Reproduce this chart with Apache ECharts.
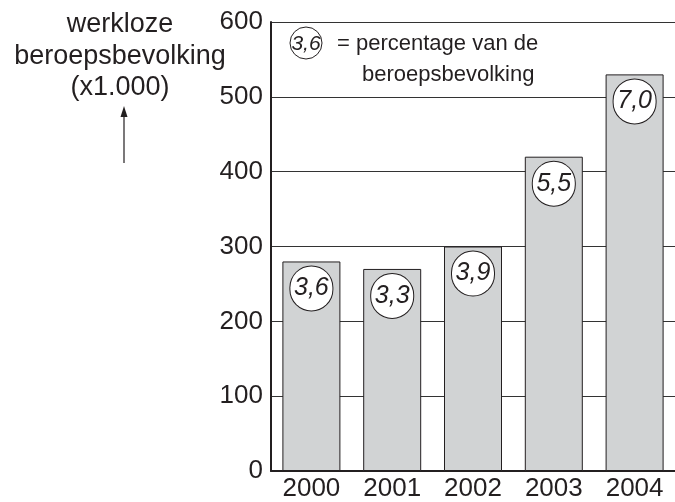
<!DOCTYPE html>
<html>
<head>
<meta charset="utf-8">
<script src="https://cdn.jsdelivr.net/npm/echarts@6/dist/echarts.min.js"></script>
<style>
  html, body { margin: 0; padding: 0; background: #fff; }
  #chart { width: 675px; height: 502px; }
</style>
</head>
<body>
<div id="chart"></div>
<script>
// werkloze beroepsbevolking (x1.000) per jaar
const years = ['2000', '2001', '2002', '2003', '2004']
const werkloos = [280, 270, 300, 420, 530]
const percentage = ['3,6', '3,3', '3,9', '5,5', '7,0']
const yTicks = [0, 100, 200, 300, 400, 500, 600]

const ink = '#231f20'
const font = 'Liberation Sans, Arial, Helvetica, sans-serif'

const chart = echarts.init(document.getElementById('chart'), null, { renderer: 'canvas' })

chart.setOption({
  animation: false,
  backgroundColor: '#fff',
  textStyle: { fontFamily: font, color: ink },
  grid: { left: 271, top: 22, right: -3, bottom: 28 },
  xAxis: [{
    type: 'category',
    data: years,
    axisLine: { lineStyle: { color: ink, width: 2 } },
    axisTick: { length: 6, lineStyle: { color: ink, width: 2 } },
    axisLabel: { color: ink, fontSize: 26, fontFamily: font, margin: 5 }
  }, {
    type: 'category',
    data: years,
    position: 'bottom',
    axisLine: { show: false },
    axisTick: { inside: true, length: 6, lineStyle: { color: ink, width: 2 } },
    axisLabel: { show: false }
  }],
  yAxis: {
    type: 'value',
    min: yTicks[0],
    max: yTicks[yTicks.length - 1],
    interval: 100,
    axisLine: { show: true, lineStyle: { color: ink, width: 2 } },
    axisTick: { show: false },
    axisLabel: { color: ink, fontSize: 26, fontFamily: font, margin: 8 },
    splitLine: { lineStyle: { color: '#333', width: 1 } }
  },
  series: [{
    type: 'bar',
    data: werkloos,
    barWidth: 58,
    itemStyle: { color: '#d1d3d4', borderColor: ink, borderWidth: 1 },
    label: {
      show: true,
      position: 'insideTop',
      distance: 5,
      formatter: p => percentage[p.dataIndex],
      fontStyle: 'italic',
      fontSize: 25,
      fontFamily: font,
      color: ink,
      backgroundColor: '#fff',
      borderColor: ink,
      borderWidth: 1,
      borderRadius: 22,
      width: 42,
      height: 44,
      lineHeight: 44,
      align: 'center',
      padding: 0
    }
  }],
  graphic: [
    // as-titel links
    { type: 'text', x: 120, y: 25, style: { text: 'werkloze', font: '27px ' + font, fill: ink, align: 'center', verticalAlign: 'middle' } },
    { type: 'text', x: 120, y: 57, style: { text: 'beroepsbevolking', font: '27px ' + font, fill: ink, align: 'center', verticalAlign: 'middle' } },
    { type: 'text', x: 120, y: 88, style: { text: '(x1.000)', font: '27px ' + font, fill: ink, align: 'center', verticalAlign: 'middle' } },
    { type: 'line', shape: { x1: 124, y1: 163, x2: 124, y2: 112 }, style: { stroke: ink, lineWidth: 1.2 } },
    { type: 'polygon', shape: { points: [[124, 106], [120.5, 117], [127.5, 117]] }, style: { fill: ink } },
    // legenda
    { type: 'circle', shape: { cx: 306, cy: 43, r: 16 }, style: { fill: '#fff', stroke: ink, lineWidth: 1 } },
    { type: 'text', x: 306, y: 44, style: { text: '3,6', font: 'italic 21px ' + font, fill: ink, align: 'center', verticalAlign: 'middle' } },
    { type: 'text', x: 337, y: 44, style: { text: '= percentage van de', font: '22px ' + font, fill: ink, align: 'left', verticalAlign: 'middle' } },
    { type: 'text', x: 362, y: 75, style: { text: 'beroepsbevolking', font: '22px ' + font, fill: ink, align: 'left', verticalAlign: 'middle' } }
  ]
})
</script>
</body>
</html>
